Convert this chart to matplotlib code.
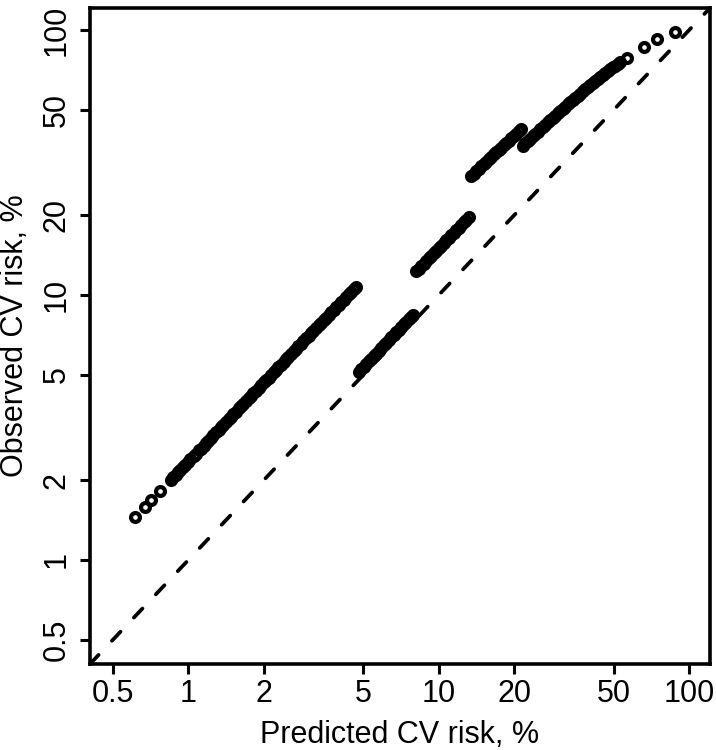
import numpy as np
import matplotlib
matplotlib.use("Agg")
import matplotlib.pyplot as plt

plt.rcParams['font.family'] = ['Liberation Sans', 'DejaVu Sans']
plt.rcParams['lines.scale_dashes'] = False

# predicted vs observed CV risk (%), one list per run of points
pred_a = [0.61, 0.67, 0.71, 0.77,
          0.85, 0.87, 0.89, 0.91, 0.93, 0.95, 0.97, 1.00, 1.02, 1.05, 1.07, 1.10, 1.12, 1.15,
          1.18, 1.20, 1.23, 1.26, 1.29, 1.32, 1.35, 1.38, 1.41, 1.45, 1.48, 1.51, 1.55, 1.59,
          1.62, 1.66, 1.70, 1.74, 1.78, 1.82, 1.86, 1.91, 1.95, 2.00, 2.04, 2.09, 2.14, 2.19,
          2.24, 2.29, 2.34, 2.40, 2.45, 2.51, 2.57, 2.63, 2.69, 2.75, 2.82, 2.88, 2.95, 3.02,
          3.09, 3.16, 3.24, 3.31, 3.39, 3.47, 3.55, 3.63, 3.72, 3.80, 3.89, 3.98, 4.07, 4.17,
          4.27, 4.37, 4.47, 4.57, 4.68]
obs_a = [1.45, 1.58, 1.68, 1.82,
         2.00, 2.05, 2.10, 2.14, 2.19, 2.24, 2.28, 2.35, 2.40, 2.47, 2.52, 2.59, 2.63, 2.70,
         2.77, 2.82, 2.89, 2.96, 3.03, 3.10, 3.17, 3.24, 3.31, 3.40, 3.47, 3.54, 3.63, 3.73,
         3.80, 3.89, 3.98, 4.07, 4.17, 4.26, 4.35, 4.47, 4.56, 4.68, 4.77, 4.88, 5.00, 5.11,
         5.23, 5.34, 5.46, 5.59, 5.71, 5.85, 5.98, 6.12, 6.26, 6.40, 6.55, 6.69, 6.85, 7.01,
         7.17, 7.33, 7.51, 7.67, 7.85, 8.03, 8.21, 8.39, 8.59, 8.77, 8.97, 9.18, 9.38, 9.60,
         9.82, 10.05, 10.27, 10.49, 10.74]

pred_b = [4.79, 4.90, 5.01, 5.13, 5.25, 5.37, 5.50, 5.62, 5.75, 5.89, 6.03, 6.17, 6.31,
          6.46, 6.61, 6.76, 6.92, 7.08, 7.24, 7.41, 7.59, 7.76, 7.88]
obs_b = [5.13, 5.24, 5.36, 5.49, 5.62, 5.75, 5.88, 6.01, 6.15, 6.30, 6.45, 6.60, 6.75,
         6.91, 7.07, 7.23, 7.40, 7.57, 7.74, 7.92, 8.11, 8.29, 8.42]

pred_c = [8.13, 8.32, 8.51, 8.71, 8.91, 9.12, 9.33, 9.55, 9.77, 10.0, 10.23, 10.47, 10.72,
          10.96, 11.22, 11.48, 11.75, 12.02, 12.30, 12.59, 12.88, 13.18]
obs_c = [12.28, 12.56, 12.84, 13.13, 13.43, 13.74, 14.04, 14.37, 14.69, 15.02, 15.36, 15.71,
         16.07, 16.42, 16.80, 17.17, 17.56, 17.95, 18.36, 18.77, 19.19, 19.62]

pred_d = [13.49, 13.80, 14.13, 14.45, 14.79, 15.14, 15.49, 15.85, 16.22, 16.60, 16.98,
          17.38, 17.78, 18.20, 18.62, 19.05, 19.50, 19.95, 20.42, 20.89, 21.38]
obs_d = [28.14, 28.72, 29.34, 29.94, 30.58, 31.22, 31.87, 32.53, 33.20, 33.89, 34.58,
         35.29, 36.00, 36.75, 37.49, 38.24, 39.02, 39.79, 40.59, 41.39, 42.22]

pred_e = [21.63, 22.13, 22.65, 23.17, 23.71, 24.27, 24.83, 25.41, 26.00, 26.61, 27.23,
          27.86, 28.51, 29.17, 29.85, 30.55, 31.26, 31.99, 32.73, 33.50, 34.28, 35.08,
          35.89, 36.73, 37.58, 38.46, 39.36, 40.27, 41.21, 42.17, 43.15, 44.16, 45.19,
          46.24, 47.32, 48.42, 49.55, 50.70, 51.88, 52.90,
          56.4, 66.0, 74.4, 87.9]
obs_e = [36.60, 37.36, 38.14, 38.91, 39.71, 40.54, 41.36, 42.20, 43.05, 43.93, 44.81,
         45.70, 46.61, 47.53, 48.47, 49.43, 50.39, 51.37, 52.36, 53.37, 54.39, 55.42,
         56.45, 57.51, 58.58, 59.66, 60.76, 61.85, 62.97, 64.09, 65.22, 66.37, 67.52,
         68.67, 69.84, 71.00, 72.18, 73.35, 74.53, 75.40,
         78.6, 86.5, 92.4, 98.2]

ticks = [0.5, 1, 2, 5, 10, 20, 50, 100]
tick_labels = ['0.5', '1', '2', '5', '10', '20', '50', '100']
lims = (0.405, 121)

fig = plt.figure(figsize=(7.16, 7.5), dpi=100)
ax = fig.add_axes([90/716, 86/750, 620/716, 656/750])

for px, ob in [(pred_a, obs_a), (pred_b, obs_b), (pred_c, obs_c), (pred_d, obs_d), (pred_e, obs_e)]:
    ax.plot(px, ob, ls='none', marker='o', mfc='none', mec='black', ms=6.4, mew=3.0)

# identity line
ax.axline((1, 1), (10, 10), color='black', lw=2.7, dashes=(9, 14), dash_capstyle='round')

ax.set_xscale('log')
ax.set_yscale('log')
ax.set_xlim(lims)
ax.set_ylim(lims)
ax.minorticks_off()
ax.set_xticks(ticks)
ax.set_xticklabels(tick_labels)
ax.set_yticks(ticks)
ax.set_yticklabels(tick_labels, rotation=90, va='center')

for s in ax.spines.values():
    s.set_linewidth(2.6)
ax.tick_params(length=7, width=2.2, labelsize=22, pad=4)
ax.tick_params(axis='y', pad=6)

ax.set_xlabel('Predicted CV risk, %', fontsize=22)
ax.set_ylabel('Observed CV risk, %', fontsize=22)
ax.xaxis.set_label_coords(0.5, -0.108)
ax.yaxis.set_label_coords(-0.121, 0.5)
ax.xaxis.label.set_va('center')
ax.yaxis.label.set_va('center')

plt.savefig('out.png', dpi=100)
